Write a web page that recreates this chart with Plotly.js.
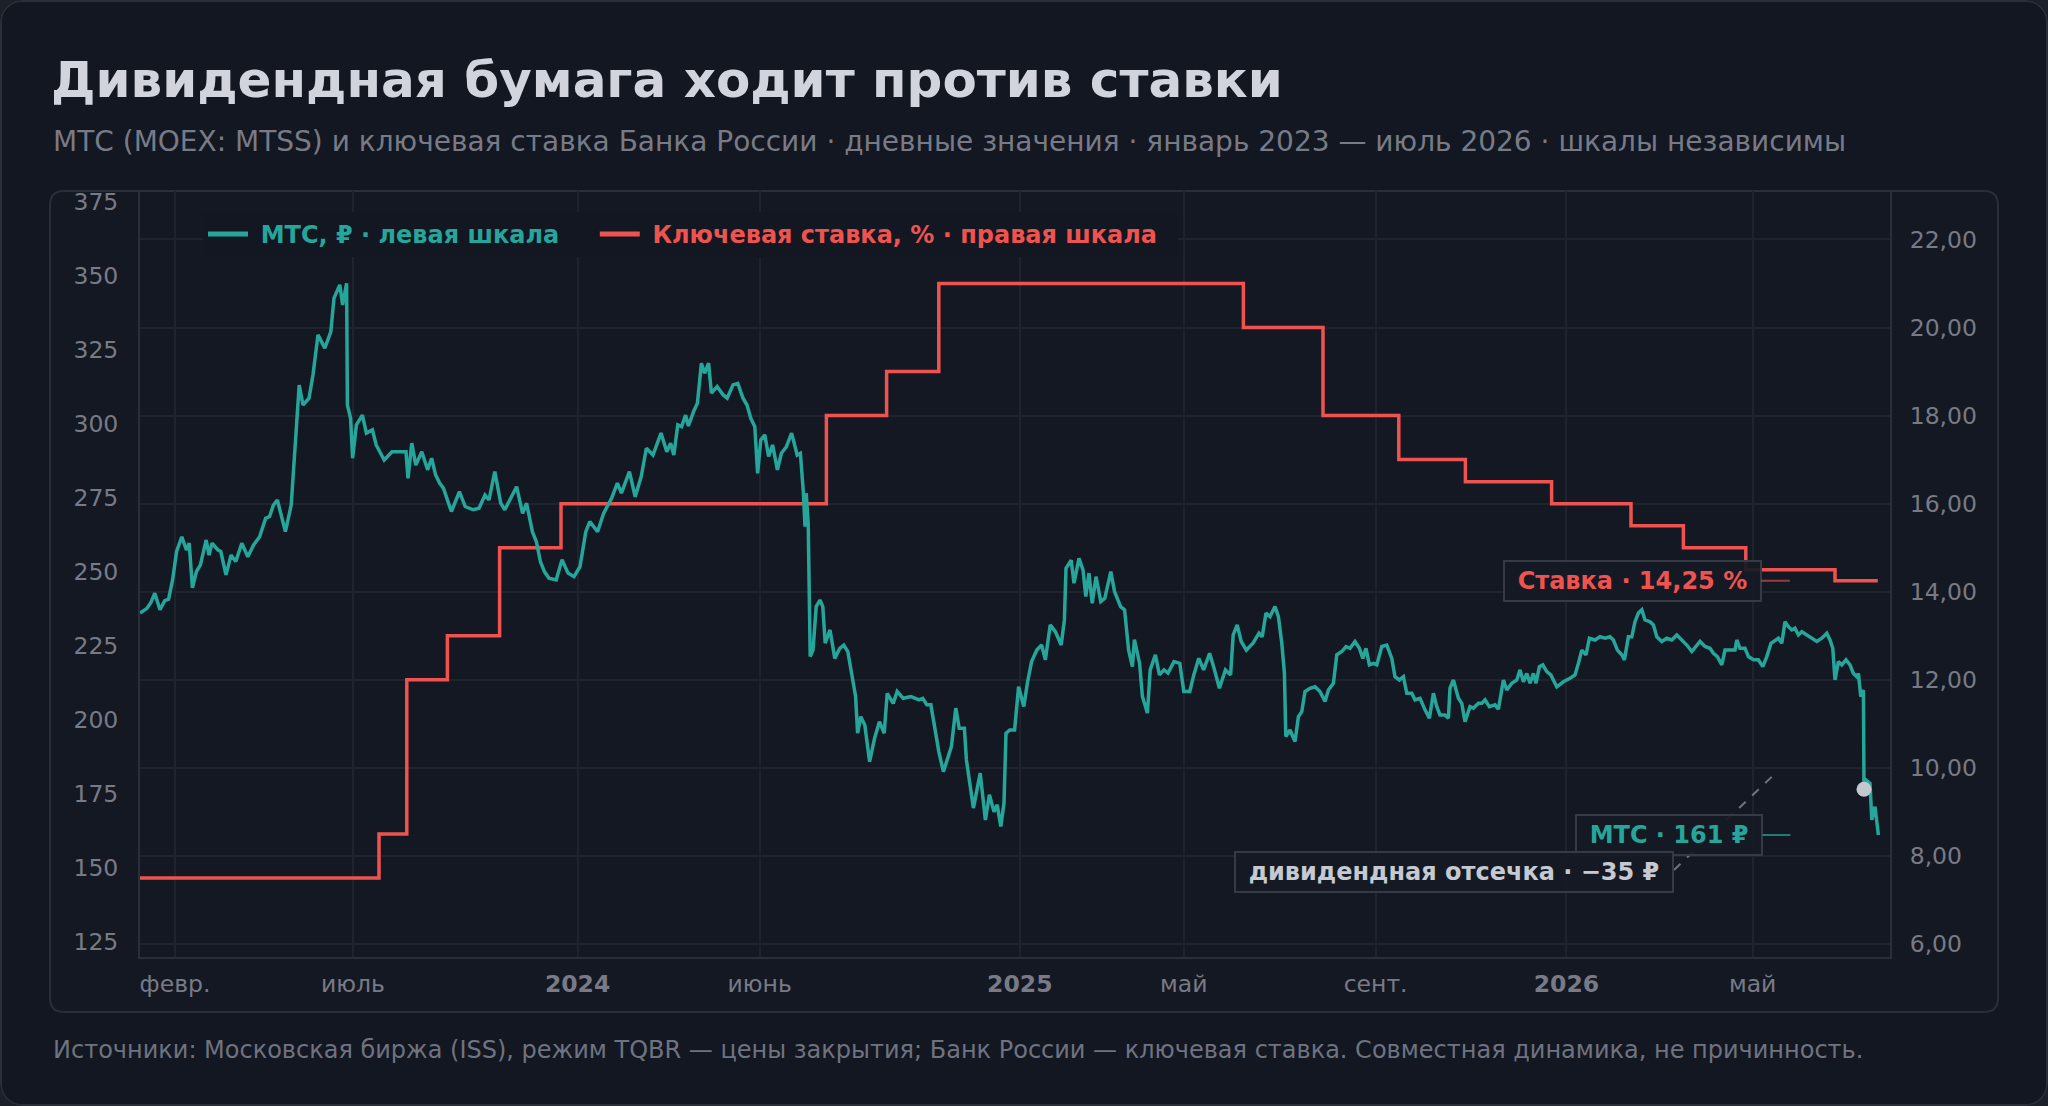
<!DOCTYPE html>
<html lang="ru">
<head>
<meta charset="utf-8">
<title>МТС и ключевая ставка</title>
<script src="https://cdn.plot.ly/plotly-3.0.1.min.js"></script>
<style>
  html, body { margin: 0; padding: 0; background: #1c2029; }
  #wrap { position: relative; width: 2048px; height: 1106px; border-radius: 22px; overflow: hidden; }
  #wrap::after { content: ""; position: absolute; inset: 0; border: 2px solid #2a2e39; border-radius: 22px; pointer-events: none; }
  #chart { width: 2048px; height: 1106px; }
</style>
</head>
<body>
<div id="wrap"><div id="chart"></div></div>
<script>
// торговые сессии (номер на оси) и цена закрытия МТС, ₽
const mtsX = [
  0, 3.5, 5.4, 7.4, 10, 12.4, 14.3, 16.3, 18.3, 20.9, 23.2, 24.6, 26.2, 28.2, 30.2, 33.1, 34.5, 36, 39, 40.4,
  43, 45.5, 47.9, 50.9, 53.9, 56.8, 59.8, 62.8, 64.8, 66.7, 68.7, 70.7, 72.7, 75.6, 77.6, 79.6, 81.5, 84.5, 86.5, 89,
  92.4, 95.4, 97, 99.9, 101.3, 103.3, 103.7, 105.3, 106.3, 108.2, 111.2, 113.2, 116.2, 118.1, 122.1, 126, 130, 133, 134, 135.9,
  137.9, 140.9, 143.8, 145.8, 147.8, 149.8, 151.7, 155.7, 159.7, 162.6, 166.6, 169.5, 172.5, 174.5, 177.4, 180.4, 182.4, 185.4, 188.3, 191.3,
  193.3, 196.2, 198.2, 200.2, 202.2, 204.5, 208.1, 211, 214, 217, 220, 222.9, 224.9, 228.8, 231.8, 235.8, 238.7, 240.7, 244.7, 247.6,
  250.6, 253.2, 256.5, 260.5, 263.4, 265.3, 266.9, 268.9, 270.8, 272.8, 274.2, 276.8, 278.7, 280.7, 282.3, 284.3, 285.7, 288.6, 291.6, 293.6,
  296.5, 298.9, 301.5, 303.5, 305.4, 307.4, 308.8, 310.4, 312.4, 314.3, 316.3, 318.7, 320.7, 323.2, 325.8, 328.6, 330.2, 331.7, 332.5, 333.1,
  334.1, 335.1, 336.5, 338.1, 340, 341.4, 342.6, 345, 347.4, 349.9, 351.9, 353.9, 355.9, 357.8, 358.8, 360.4, 362.4, 364.8, 367.3, 369.7,
  372.1, 373.6, 376.6, 378.6, 381.6, 385.5, 389.5, 391.4, 393.4, 395.4, 397, 399.4, 401.7, 403.7, 405.7, 407.9, 409.6, 412.2, 413.2, 416.7,
  420.1, 422.7, 424.7, 427, 428.6, 430.4, 432, 433, 434.9, 437.3, 439.3, 441.9, 443.8, 445.8, 448.4, 450.8, 452.7, 455.1, 457.7, 460.6,
  462.2, 463, 465.6, 467, 469.5, 471.5, 472.9, 474.5, 476.1, 478, 480.4, 482.4, 485.4, 487.3, 490.3, 492.3, 494.3, 496.2, 497.2, 499.8,
  501.2, 503.7, 505.1, 507.7, 509.7, 512, 514, 517, 519.9, 521.9, 524.9, 526.9, 529.4, 531.8, 534.8, 536.8, 539.7, 542.7, 545.3, 546.6,
  548.6, 550.6, 553.2, 556.5, 559.5, 561.1, 563, 565, 567.5, 569.2, 570.9, 572.2, 572.9, 575, 577.5, 579.2, 580.9, 582.5, 585, 587.5,
  590, 592.5, 594.2, 596.7, 598.4, 600.9, 603, 605, 607.5, 609.7, 611.4, 613, 614.7, 616.7, 618.4, 620.9, 623.4, 625.9, 627.5, 629.7,
  631.7, 633.4, 635.9, 637.5, 640, 642.5, 644.7, 646.7, 648.4, 650, 652.5, 654.2, 655, 656.7, 659.2, 660.9, 662.5, 665, 666.7, 669.2,
  670.9, 672.5, 674.7, 677.5, 679.2, 681.7, 683.4, 685.9, 688.4, 690, 691.7, 693.4, 695, 696.7, 698, 699.7, 701.4, 703.4, 705.4, 708.4,
  711.7, 715, 717.5, 719.2, 720.9, 723, 724.7, 727.5, 730, 732.5, 735, 736.7, 738.7, 740.9, 742.2, 744.2, 745.9, 747.5, 749.2, 750.9,
  752.5, 755, 756.7, 758.4, 760.9, 763.4, 765.9, 768.4, 770.9, 773.4, 775.9, 778.4, 780, 782.5, 785, 786.7, 788.7, 790.9, 792.5, 795,
  797.5, 798.4, 800, 802.5, 804.2, 806.7, 809.2, 811.4, 813.4, 815.5, 817.5, 819.2, 820.9, 822.5, 824.2, 825.9, 827.5, 829.2, 830.9, 833.4,
  835.9, 838.4, 840.9, 843.4, 845, 846.4, 847.5, 849.2, 850.9, 853, 855, 856.7, 858.4, 859.2, 860.4, 861.7, 862, 863, 865, 865.9,
  867.5, 869.2
];
const mtsY = [
  236, 237.6, 239.5, 242.7, 237.1, 240.2, 240.7, 247.2, 256.8, 261.8, 257.3, 259.6, 244.5, 250, 252.3, 260.7, 255.6, 259.6, 257.3, 256.8,
  248.9, 255.6, 253.4, 259.6, 255, 259, 261.8, 268, 268.6, 272.5, 274.2, 269.2, 263.5, 272.5, 292.8, 313, 306.3, 308.6, 316.5, 330,
  325.5, 331, 342.4, 346.9, 340.1, 347.4, 306.3, 301.8, 288.3, 299.6, 302.9, 296.8, 297.9, 292.8, 287.7, 290.5, 290.5, 290.5, 281.5, 293.4,
  286, 290.5, 284.4, 288.3, 282.7, 279.9, 278.2, 270.3, 277, 272, 270.9, 271.4, 275.9, 274.2, 283.8, 273.1, 270.9, 274.8, 278.7, 269.7,
  273.1, 263.5, 260.1, 253.4, 250, 247.8, 247.2, 254, 249.5, 248.3, 251.7, 263.5, 266.9, 263.5, 269.7, 274.8, 279.9, 276.5, 283.8, 275.3,
  282.1, 291.7, 289.4, 296.8, 290.5, 293.4, 289.4, 299.6, 299, 302.9, 299.2, 304.1, 306.9, 320.4, 317, 320.4, 310.3, 312.5, 309.7, 308.6,
  313.1, 313.6, 308.6, 306.3, 301.8, 299, 283.2, 294.5, 296.2, 288.9, 292.8, 284.4, 290, 292.2, 296.8, 289.4, 290, 276.5, 265.2, 276.5,
  266.4, 221.3, 223.5, 238.2, 240.4, 238.2, 225.8, 230.3, 220.7, 224.1, 225.2, 223, 215.7, 207.8, 195.4, 201, 198.2, 185.8, 193.7, 199.3,
  195.4, 208.9, 205.5, 209.5, 207.2, 207.8, 206.7, 207.2, 205, 205, 198.8, 189.2, 182.4, 186.4, 190.9, 203.9, 197.1, 197.1, 186.4, 170.1,
  181.9, 166.1, 174.6, 168.9, 171.2, 163.9, 171.8, 195.4, 196.5, 196.5, 211.1, 204.4, 212.8, 219.6, 223.5, 225.2, 220.2, 232, 229.7, 225.2,
  233.7, 251.1, 253.9, 246.1, 254.5, 250.6, 241.6, 249.5, 239.3, 248.3, 239.9, 241, 250, 243.2, 238.2, 237.1, 223.5, 217.9, 227, 219,
  207.8, 202.2, 216.8, 221.9, 215.1, 216.8, 215.7, 219.6, 219, 209.5, 209.5, 215.1, 220.7, 216.8, 222.4, 217.9, 210.6, 216.8, 215.1, 228.6,
  232, 226.4, 223.5, 225.8, 229.2, 228, 236, 234.8, 238.2, 234.8, 225.8, 215.7, 194.3, 196.5, 192.6, 201, 202.7, 209.5, 210.6, 211.1,
  209.5, 206.1, 210, 212.3, 221.9, 223, 224.7, 224.1, 226.4, 224.1, 220.7, 224.1, 218.5, 219, 218.5, 224.7, 225.2, 220.7, 214.5, 213.4,
  214.5, 208.9, 208.9, 206.7, 207.2, 203.3, 200.5, 208.9, 204.4, 201.6, 201.6, 200.5, 210.6, 213.4, 207.2, 205.5, 199.3, 204.4, 203.9, 205.5,
  205.5, 206.7, 204.4, 205, 203.5, 213.4, 210, 212.3, 213.4, 216.8, 212.8, 215.6, 212.3, 215.6, 212.3, 217.9, 218.5, 216.2, 215.1, 211.1,
  212.8, 214, 215.1, 219, 223.5, 221.9, 227.5, 226.9, 228, 227.5, 228, 226.9, 223.5, 221.9, 220.2, 228, 228, 233.1, 236, 237.1,
  233.7, 233.1, 232, 228, 226.4, 227.5, 226.9, 228.6, 226.9, 225.2, 223, 225.2, 226.4, 224.7, 224.1, 222.4, 221.3, 218.5, 223.5, 223.5,
  223.5, 226.9, 224.1, 224.1, 221.3, 220.2, 220.2, 217.9, 221.3, 225.8, 226.9, 227.5, 225.8, 233.1, 231.4, 230.3, 230.9, 228.6, 229.7, 228.6,
  227.5, 226.4, 227.5, 229.2, 226.9, 224.1, 213.4, 219.6, 218.5, 220.2, 218.5, 215.6, 214.5, 215.6, 207.8, 210, 176.5, 179.6, 178.5, 166.1,
  170.6, 161
];

// дивидендная отсечка
const divX = [862];
const divY = [176.5];

// ключевая ставка Банка России, % (начало каждого уровня)
const rateX = [0, 119.5, 133.4, 153.7, 179.8, 210.5, 343.2, 373.3, 399.4, 551.7, 591.5, 629.4, 662.7, 705.8, 745.5, 771.7, 802.9, 847.5, 868.9];
const rateY = [7.5, 8.5, 12, 13, 15, 16, 18, 19, 21, 20, 18, 17, 16.5, 16, 15.5, 15, 14.5, 14.25, 14.25];

// подписи оси времени
const tickX = [17.5, 106.5, 218.8, 309.8, 439.9, 521.9, 617.8, 713.2, 806.3];
const tickText = ["февр.", "июль", "<b>2024</b>", "июнь", "<b>2025</b>", "май", "сент.", "<b>2026</b>", "май"];

const TEAL = "#26a69a";
const RED = "#ef5350";
const GRID = "#1f232e";
const LINE = "#2a2e39";
const MUTED = "#787b86";
const NB = "\u00a0";

function roundedRect(x0, y0, x1, y1, rx, ry) {
  return "M " + (x0 + rx) + "," + y1 +
    " L " + (x1 - rx) + "," + y1 + " Q " + x1 + "," + y1 + " " + x1 + "," + (y1 - ry) +
    " L " + x1 + "," + (y0 + ry) + " Q " + x1 + "," + y0 + " " + (x1 - rx) + "," + y0 +
    " L " + (x0 + rx) + "," + y0 + " Q " + x0 + "," + y0 + " " + x0 + "," + (y0 + ry) +
    " L " + x0 + "," + (y1 - ry) + " Q " + x0 + "," + y1 + " " + (x0 + rx) + "," + y1 + " Z";
}

function init() {
  var data = [{
    x: mtsX, y: mtsY,
    yaxis: "y2",
    type: "scatter", mode: "lines",
    showlegend: false,
    line: {color: TEAL, width: 3.5}
  }, {
    x: divX, y: divY,
    yaxis: "y2",
    type: "scatter", mode: "markers",
    showlegend: false,
    marker: {color: "#c3c8d0", size: 15}
  }, {
    x: rateX, y: rateY,
    yaxis: "y",
    type: "scatter", mode: "lines",
    showlegend: false,
    line: {color: RED, width: 3.5, shape: "hv"}
  }, {
    // legend entries only (thicker sample lines)
    x: [null], y: [null], yaxis: "y2",
    type: "scatter", mode: "lines",
    name: NB + '<span style="color:' + TEAL + '"><b>МТС, ₽ · левая шкала</b></span>' + NB + NB + NB + NB,
    line: {color: TEAL, width: 5}
  }, {
    x: [null], y: [null], yaxis: "y",
    type: "scatter", mode: "lines",
    name: NB + '<span style="color:' + RED + '"><b>Ключевая ставка, % · правая шкала</b></span>' + NB + NB,
    line: {color: RED, width: 5}
  }];

  var boxStyle = {
    bgcolor: "rgba(22,26,36,0.93)",
    bordercolor: "#363a45",
    borderwidth: 2,
    borderpad: 5
  };

  var layout = {
    width: 2048,
    height: 1106,
    paper_bgcolor: "#131722",
    plot_bgcolor: "rgba(0,0,0,0)",
    font: {family: "DejaVu Sans", color: MUTED, size: 23.5},
    separators: ", ",
    margin: {l: 140, r: 158, t: 191, b: 149, pad: 0},
    showlegend: true,
    title: {
      text: "<b>Дивидендная бумага ходит против ставки</b>",
      font: {size: 50, color: "#d1d4dc"},
      x: 51 / 2048, xref: "container", xanchor: "left",
      y: 1 - 79 / 1106, yref: "container", yanchor: "middle"
    },
    legend: {
      orientation: "h",
      x: 0.036, y: 0.9726, xanchor: "left", yanchor: "top",
      bgcolor: "#131722",
      itemwidth: 40,
      font: {size: 24, color: TEAL}
    },
    xaxis: {
      range: [0, 875],
      tickmode: "array", tickvals: tickX, ticktext: tickText,
      showgrid: true, gridcolor: GRID, gridwidth: 2,
      showline: true, linecolor: LINE, linewidth: 2,
      zeroline: false, ticks: "",
      tickfont: {size: 23.5, color: MUTED},
      ticklabelstandoff: 5
    },
    yaxis: {
      side: "right",
      range: [5.705, 23.1],
      tickmode: "linear", tick0: 6, dtick: 2,
      tickformat: ".2f",
      showgrid: true, gridcolor: GRID, gridwidth: 2,
      showline: true, linecolor: LINE, linewidth: 2,
      zeroline: false, ticks: "",
      tickfont: {size: 23.5, color: MUTED},
      ticklabelstandoff: 13
    },
    yaxis2: {
      overlaying: "y", side: "left",
      range: [119.8, 378.6],
      tickmode: "linear", tick0: 125, dtick: 25,
      showgrid: false,
      showline: true, linecolor: LINE, linewidth: 2,
      zeroline: false, ticks: "",
      tickfont: {size: 23.5, color: MUTED},
      ticklabelstandoff: 15
    },
    shapes: [{
      type: "path", xref: "paper", yref: "paper", layer: "below",
      path: roundedRect(-0.0514, -0.0718, 1.0617, 1.0, 0.008, 0.0183),
      fillcolor: "rgba(255,255,255,0.006)",
      line: {color: LINE, width: 2}
    }, {
      type: "line", xref: "x", yref: "y2",
      x0: 767, y0: 149.2, x1: 816.4, y1: 181,
      line: {color: "rgba(140,145,156,0.75)", width: 2, dash: "dash"}
    }],
    annotations: [
      {
        text: "МТС (MOEX: MTSS) и ключевая ставка Банка России · дневные значения · январь 2023 — июль 2026 · шкалы независимы",
        xref: "paper", yref: "paper", x: -0.0509, y: 1.064,
        xanchor: "left", yanchor: "middle", showarrow: false,
        font: {size: 28, color: MUTED}
      },
      {
        text: "Источники: Московская биржа (ISS), режим TQBR — цены закрытия; Банк России — ключевая ставка. Совместная динамика, не причинность.",
        xref: "paper", yref: "paper", x: -0.0509, y: -0.1214,
        xanchor: "left", yanchor: "middle", showarrow: false,
        font: {size: 24, color: "#6f7380"}
      },
      Object.assign({
        text: NB + "<b>Ставка · 14,25 %</b>" + NB,
        xref: "x", yref: "y", x: rateX[rateX.length - 1], y: rateY[rateY.length - 1],
        ax: -245, ay: 0, showarrow: true, arrowhead: 0, arrowwidth: 2,
        arrowcolor: "rgba(239,83,80,0.6)", standoff: 88,
        font: {size: 24, color: RED}
      }, boxStyle),
      Object.assign({
        text: NB + "<b>МТС · 161 ₽</b>" + NB,
        xref: "x", yref: "y2", x: mtsX[mtsX.length - 1], y: mtsY[mtsY.length - 1],
        ax: -209, ay: 0, showarrow: true, arrowhead: 0, arrowwidth: 2,
        arrowcolor: "rgba(38,166,154,0.7)", standoff: 88,
        font: {size: 24, color: TEAL}
      }, boxStyle),
      Object.assign({
        text: NB + "<b>дивидендная отсечка · −35 ₽</b>" + NB,
        xref: "x", yref: "y2", x: 656.8, y: 148.6,
        showarrow: false,
        font: {size: 24, color: "#c5c9d1"}
      }, boxStyle)
    ]
  };

  Plotly.newPlot("chart", data, layout, {displayModeBar: false, staticPlot: true});
}

init();
</script>
</body>
</html>
